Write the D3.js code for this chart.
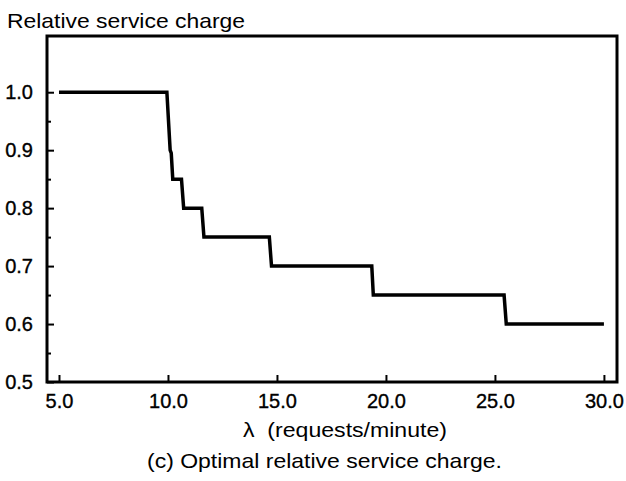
<!DOCTYPE html>
<html>
<head>
<meta charset="utf-8">
<script src="https://cdn.jsdelivr.net/npm/d3@7"></script>
<style>
  body { margin: 0; background: #fff; }
  svg { display: block; font-family: "Liberation Sans", Arial, Helvetica, sans-serif; }
  .tick text { font-size: 20px; fill: #000; stroke: #000; stroke-width: 0.35; }
  .tick line { stroke: #000; stroke-width: 2; }
  .label { fill: #000; }
</style>
</head>
<body>
<div id="chart"></div>
<script>
// Step curve: optimal relative service charge vs arrival rate
const lambdaValues = [5.0, 9.95, 10.1, 10.15, 10.22, 10.62, 10.72, 11.55, 11.65, 14.65, 14.75, 19.35, 19.42, 25.42, 25.52, 30.0];
const chargeValues = [1.0, 1.0, 0.90, 0.895, 0.85, 0.85, 0.80, 0.80, 0.75, 0.75, 0.70, 0.70, 0.65, 0.65, 0.60, 0.60];

const xTicks = [5, 10, 15, 20, 25, 30];
const yTicks = [0.5, 0.6, 0.7, 0.8, 0.9, 1.0];
const yMinorTicks = [0.55, 0.65, 0.75, 0.85, 0.95];

const width = 626, height = 481;
const plot = { left: 47, right: 617, top: 36, bottom: 382 };

const svg = d3.select("#chart").append("svg")
  .attr("width", width)
  .attr("height", height);

const x = d3.scaleLinear().domain([4.45, 30.6]).range([plot.left, plot.right]);
const y = d3.scaleLinear().domain([0.5, 1.097]).range([plot.bottom, plot.top]);

// y axis, major ticks pointing inward
svg.append("g")
  .attr("transform", `translate(${plot.left},0)`)
  .call(d3.axisLeft(y).tickValues(yTicks).tickSize(-7).tickPadding(14).tickFormat(d3.format(".1f")))
  .call(g => g.select(".domain").remove());

// minor y ticks
svg.append("g")
  .attr("transform", `translate(${plot.left},0)`)
  .call(d3.axisLeft(y).tickValues(yMinorTicks).tickSize(-4).tickFormat(""))
  .call(g => g.select(".domain").remove());

// x axis, ticks pointing inward
svg.append("g")
  .attr("transform", `translate(0,${plot.bottom})`)
  .call(d3.axisBottom(x).tickValues(xTicks).tickSize(-7).tickPadding(12).tickFormat(d3.format(".1f")))
  .call(g => g.select(".domain").remove());

// frame
svg.append("rect")
  .attr("x", plot.left)
  .attr("y", plot.top)
  .attr("width", plot.right - plot.left)
  .attr("height", plot.bottom - plot.top)
  .attr("fill", "none")
  .attr("stroke", "#000")
  .attr("stroke-width", 3);

// the step line
const points = lambdaValues.map((l, i) => [l, chargeValues[i]]);
svg.append("path")
  .datum(points)
  .attr("fill", "none")
  .attr("stroke", "#000")
  .attr("stroke-width", 3.5)
  .attr("stroke-linejoin", "miter")
  .attr("d", d3.line().x(d => x(d[0])).y(d => y(d[1])));

// labels
svg.append("text")
  .attr("class", "label")
  .attr("x", 7)
  .attr("y", 28)
  .attr("font-size", 21)
  .attr("textLength", 238)
  .attr("lengthAdjust", "spacingAndGlyphs")
  .text("Relative service charge");

svg.append("text")
  .attr("class", "label")
  .attr("x", 243)
  .attr("y", 437)
  .attr("font-size", 21)
  .attr("textLength", 204)
  .attr("lengthAdjust", "spacingAndGlyphs")
  .text("λ\u00a0 (requests/minute)");

svg.append("text")
  .attr("class", "label")
  .attr("x", 147)
  .attr("y", 468)
  .attr("font-size", 21)
  .attr("textLength", 355)
  .attr("lengthAdjust", "spacingAndGlyphs")
  .text("(c) Optimal relative service charge.");
</script>
</body>
</html>
